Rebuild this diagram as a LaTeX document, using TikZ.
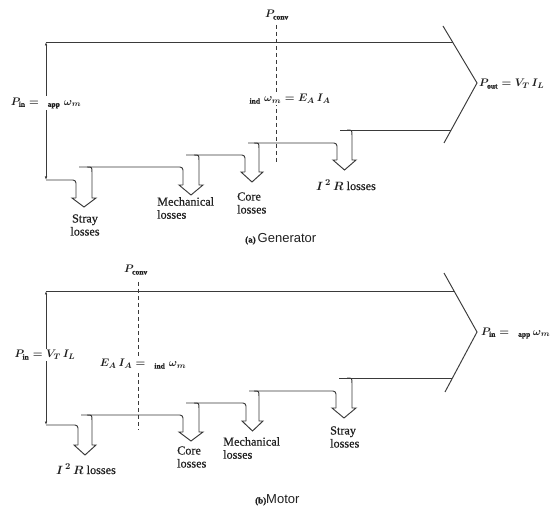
\documentclass[tikz,border=0pt]{standalone}
\usepackage{fontspec}
\setmainfont{Liberation Serif}[FakeBold=0.6]
\newfontfamily\capsans{Liberation Sans}
\usetikzlibrary{arrows.meta}
\definecolor{ln}{HTML}{3A3A3A}
\definecolor{tx}{HTML}{202020}
\newcommand\lossarrow[5]{%
  \draw[flow] ({#2-5},#3) .. controls (#2,#3) .. (#2,{#3+6}) -- (#2,#4) -- ({#2+4},#4)
    -- ({(#1+#2)/2},#5) -- ({#1-4},#4) -- (#1,#4);}
\tikzset{
  flow/.style={draw=ln, line width=0.95pt, line join=miter},
  convline/.style={draw=ln, line width=0.8pt, dash pattern=on 4pt off 3pt},
  lbl/.style={font=\fontsize{12.2}{13}\selectfont\boldmath, text=tx, inner sep=1pt},
  eq/.style={font=\fontsize{10.8}{12}\selectfont\boldmath, text=tx, inner sep=1pt},
  meq/.style={eq, fill=white, inner sep=1.5pt},
  losslbl/.style={lbl, align=left, anchor=west},
  endtip/.style={{Latex[length=3.5pt,width=2.5pt]}-{Latex[length=3.5pt,width=2.5pt]}}
}
\begin{document}
\begin{tikzpicture}[x=1pt,y=-1pt]
\useasboundingbox (0,0) rectangle (555,508);
\fill[white] (0,0) rectangle (555,508);

% ================= (a) Generator =================
\coordinate (gTL) at (46,42);
\coordinate (gBL) at (46,180);
\coordinate (gC1) at (443,26);
\coordinate (gTip) at (477,83);
\coordinate (gC2) at (444,143);
\draw[flow] (gTL) -- (453,42);
\draw[flow, endtip] (gTL) -- (gBL);
\draw[flow, rounded corners=3pt] (gBL) -- (76,180) -- (76,198);
\draw[flow, rounded corners=3pt] (79,167) -- (183,167) -- (183,185);
\draw[flow, rounded corners=3pt] (186,155) -- (245,155) -- (245,172);
\draw[flow, rounded corners=3pt] (248,143) -- (337,143) -- (337,160);
\draw[flow] (340,130) -- (451,130);
\lossarrow{76}{92}{167}{198}{207}
\lossarrow{183}{199}{155}{185}{195}
\lossarrow{245}{259}{143}{172}{182}
\lossarrow{337}{352}{130}{160}{170}
\draw[flow] (gC1) -- (gTip) -- (gC2);
\draw[convline] (276,25) -- (276,163);

\node[eq] (gPconv) at (277,15) {$P_{\mathrm{conv}}$};
\node[meq] (gPin) at (46,103) {$P_{\mathrm{in}} = \enskip{}_{\mathrm{app}}\;\omega_m$};
\node[meq] (gInd) at (290,99) {${}_{\mathrm{ind}}\;\omega_m = E_A\,I_A$};
\node[eq, anchor=west] (gPout) at (478,84) {$P_{\mathrm{out}} = V_T\,I_L$};
\node[lbl, align=center] (gStray) at (85,225) {Stray\\losses};
\node[losslbl] (gMech) at (156,208) {Mechanical\\losses};
\node[losslbl] (gCore) at (236,203) {Core\\losses};
\node[lbl] (gI2R) at (346,185) {$I^{\,2}\,R$ losses};
\node[lbl, anchor=west, inner sep=0pt] (gCap) at (245,239) {{\fontsize{9}{10}\selectfont\bfseries (a)}\,{\capsans\fontsize{13}{14}\selectfont Generator}};

% ================= (b) Motor =================
\coordinate (mTL) at (46,291);
\coordinate (mBL) at (46,425);
\coordinate (mC1) at (444,273);
\coordinate (mTip) at (477,332);
\coordinate (mC2) at (445,392);
\draw[flow] (mTL) -- (454,291);
\draw[flow, endtip] (mTL) -- (mBL);
\draw[flow, rounded corners=3pt] (mBL) -- (78,425) -- (78,445);
\draw[flow, rounded corners=3pt] (81,415) -- (183,415) -- (183,432);
\draw[flow, rounded corners=3pt] (186,403) -- (246,403) -- (246,421);
\draw[flow, rounded corners=3pt] (249,391) -- (336,391) -- (336,408);
\draw[flow] (339,378) -- (452,378);
\lossarrow{78}{92}{415}{445}{455}
\lossarrow{183}{199}{403}{432}{441}
\lossarrow{246}{259}{391}{421}{431}
\lossarrow{336}{352}{378}{408}{418}
\draw[flow] (mC1) -- (mTip) -- (mC2);
\draw[convline] (138,282) -- (138,430);

\node[eq] (mPconv) at (136,270) {$P_{\mathrm{conv}}$};
\node[meq] (mPin) at (45,355) {$P_{\mathrm{in}} = V_T\,I_L$};
\node[meq] (mInd) at (143,364) {$E_A\,I_A = \enskip{}_{\mathrm{ind}}\;\omega_m$};
\node[eq, anchor=west] (mPin2) at (480,333) {$P_{\mathrm{in}} = \enskip{}_{\mathrm{app}}\,\omega_m$};
\node[lbl] (mI2R) at (86,469) {$I^{\,2}\,R$ losses};
\node[losslbl] (mCore) at (176,457) {Core\\losses};
\node[losslbl] (mMech) at (222,448) {Mechanical\\losses};
\node[losslbl] (mStray) at (329,437) {Stray\\losses};
\node[lbl, anchor=west, inner sep=0pt] (mCap) at (255,500) {{\fontsize{9}{10}\selectfont\bfseries (b)}{\capsans\fontsize{13}{14}\selectfont Motor}};
\end{tikzpicture}
\end{document}
